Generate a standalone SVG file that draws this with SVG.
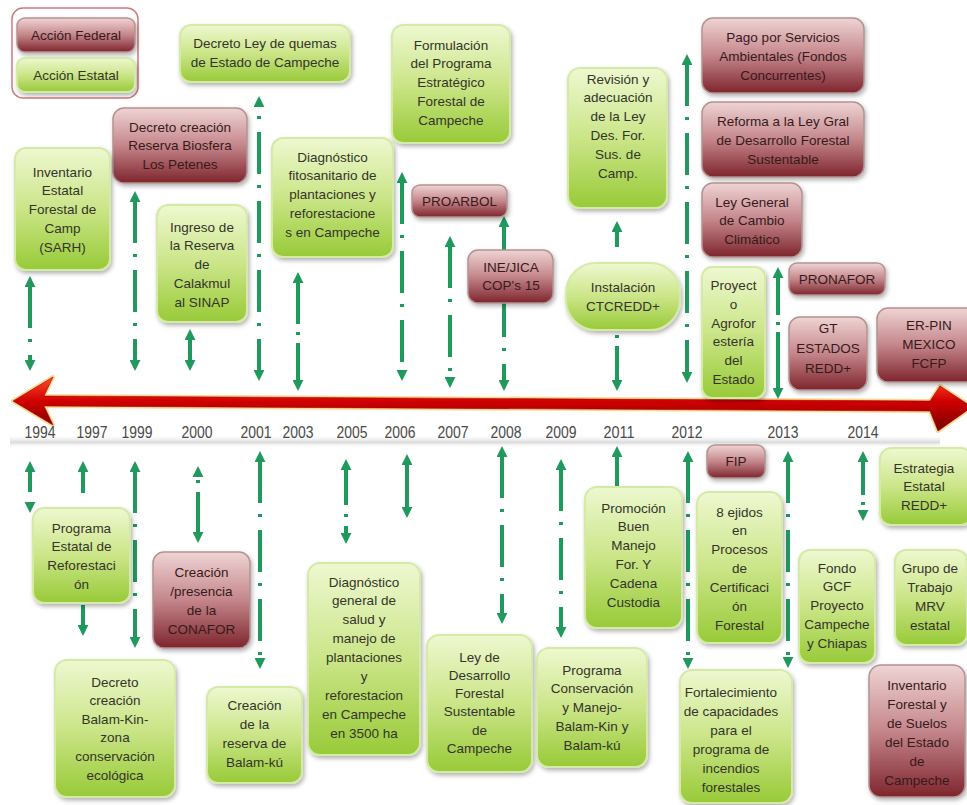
<svg xmlns="http://www.w3.org/2000/svg" width="967" height="805" viewBox="0 0 967 805">
<defs>
<linearGradient id="gg" x1="0" y1="0" x2="0" y2="1">
<stop offset="0" stop-color="#eef8d0"/><stop offset="0.5" stop-color="#cbe588"/><stop offset="1" stop-color="#98ca38"/>
</linearGradient>
<linearGradient id="mg" x1="0" y1="0" x2="0" y2="1">
<stop offset="0" stop-color="#efd4d4"/><stop offset="0.5" stop-color="#c4868b"/><stop offset="1" stop-color="#7e252d"/>
</linearGradient>
<linearGradient id="ax" x1="0" y1="0" x2="0" y2="1">
<stop offset="0" stop-color="#ff4a2a"/><stop offset="0.45" stop-color="#d00000"/><stop offset="1" stop-color="#760000"/>
</linearGradient>
<linearGradient id="band" x1="0" y1="0" x2="0" y2="1">
<stop offset="0" stop-color="#ffffff" stop-opacity="0"/><stop offset="0.6" stop-color="#dadada"/><stop offset="1" stop-color="#ffffff" stop-opacity="0"/>
</linearGradient>
<filter id="sh" x="-20%" y="-20%" width="140%" height="140%">
<feDropShadow dx="1.5" dy="2.5" stdDeviation="2" flood-color="#000" flood-opacity="0.3"/>
</filter>
<marker id="ah" viewBox="0 0 10 10" refX="1" refY="5" markerWidth="11" markerHeight="11" markerUnits="userSpaceOnUse" orient="auto-start-reverse">
<path d="M0,0 L10,5 L0,10 z" fill="#1f9a5c"/>
</marker>
</defs>
<style>
.g{fill:url(#gg);stroke:#d6eaa8;stroke-width:2;filter:url(#sh)}
.m{fill:url(#mg);stroke:#b49292;stroke-width:1.5;filter:url(#sh)}
.t{font-family:"Liberation Sans",Arial,sans-serif;font-size:13.5px;text-anchor:middle;fill:#34342a}
.tm{font-family:"Liberation Sans",Arial,sans-serif;font-size:13.5px;text-anchor:middle;fill:#361a1a}
.yr{font-family:"Liberation Sans",Arial,sans-serif;font-size:17px;text-anchor:middle;fill:#4a4a4a}
.c{stroke:#1f9a5c;stroke-width:4;fill:none}
.dd{stroke-dasharray:3 13 42 11;stroke-dashoffset:16}
.b{marker-start:url(#ah);marker-end:url(#ah)}
.u{marker-start:url(#ah)}
.d{marker-end:url(#ah)}
</style>
<rect width="967" height="805" fill="#ffffff"/>

<g id="axis">
<rect x="10" y="434" width="930" height="14" fill="url(#band)"/>
<path d="M13,401 L53,377 L44,396 L930,401 L940,386 L972,407 L938,431 L930,411 L44,406 L53,425 Z" fill="none" stroke="#f6cf7a" stroke-width="4" stroke-linejoin="round" opacity="0.8"/>
<path d="M13,401 L53,377 L44,396 L930,401 L940,386 L972,407 L938,431 L930,411 L44,406 L53,425 Z" fill="url(#ax)" stroke="#a00000" stroke-width="0.6"/>
</g>

<g id="years">
<text class="yr" x="40" y="438" textLength="31" lengthAdjust="spacingAndGlyphs">1994</text>
<text class="yr" x="92" y="438" textLength="31" lengthAdjust="spacingAndGlyphs">1997</text>
<text class="yr" x="137" y="438" textLength="31" lengthAdjust="spacingAndGlyphs">1999</text>
<text class="yr" x="197" y="438" textLength="31" lengthAdjust="spacingAndGlyphs">2000</text>
<text class="yr" x="256" y="438" textLength="31" lengthAdjust="spacingAndGlyphs">2001</text>
<text class="yr" x="298" y="438" textLength="31" lengthAdjust="spacingAndGlyphs">2003</text>
<text class="yr" x="352" y="438" textLength="31" lengthAdjust="spacingAndGlyphs">2005</text>
<text class="yr" x="400" y="438" textLength="31" lengthAdjust="spacingAndGlyphs">2006</text>
<text class="yr" x="453" y="438" textLength="31" lengthAdjust="spacingAndGlyphs">2007</text>
<text class="yr" x="506" y="438" textLength="31" lengthAdjust="spacingAndGlyphs">2008</text>
<text class="yr" x="561" y="438" textLength="31" lengthAdjust="spacingAndGlyphs">2009</text>
<text class="yr" x="619" y="438" textLength="31" lengthAdjust="spacingAndGlyphs">2011</text>
<text class="yr" x="687" y="438" textLength="31" lengthAdjust="spacingAndGlyphs">2012</text>
<text class="yr" x="783" y="438" textLength="31" lengthAdjust="spacingAndGlyphs">2013</text>
<text class="yr" x="863" y="438" textLength="31" lengthAdjust="spacingAndGlyphs">2014</text>
</g>

<g id="connectors">
<line class="c dd b" x1="30" y1="286" x2="30" y2="361"/>
<line class="c dd b" x1="135" y1="201" x2="135" y2="361"/>
<line class="c b" x1="190" y1="339" x2="190" y2="361"/>
<line class="c dd b" x1="259" y1="106" x2="259" y2="371" style="stroke-dashoffset:59"/>
<line class="c b" x1="298" y1="282" x2="298" y2="381" style="stroke-dasharray:42 8 3 8 100"/>
<line class="c dd b" x1="402" y1="182" x2="402" y2="371"/>
<line class="c dd b" x1="450" y1="246" x2="450" y2="378"/>
<line class="c dd b" x1="504" y1="226" x2="504" y2="381"/>
<line class="c u" x1="617" y1="231" x2="617" y2="247"/>
<line class="c d" x1="617" y1="334" x2="617" y2="381" style="stroke-dasharray:0 1 3 8 100"/>
<line class="c dd b" x1="687" y1="64" x2="687" y2="373"/>
<line class="c b" x1="778" y1="277" x2="778" y2="389" style="stroke-dasharray:38 7 3 7 100"/>
<line class="c b" x1="30" y1="471" x2="30" y2="503" style="stroke-dasharray:21 20"/>
<line class="c u" x1="83" y1="471" x2="83" y2="493"/>
<line class="c d" x1="83" y1="605" x2="83" y2="626"/>
<line class="c dd b" x1="135" y1="471" x2="135" y2="638"/>
<line class="c b" x1="198" y1="476" x2="198" y2="533" style="stroke-dasharray:0 4 3 9 100"/>
<line class="c dd b" x1="260" y1="461" x2="260" y2="659"/>
<line class="c b" x1="346" y1="469" x2="346" y2="534" style="stroke-dasharray:36 9 3 9 20"/>
<line class="c b" x1="407" y1="464" x2="407" y2="508"/>
<line class="c dd b" x1="502" y1="456" x2="502" y2="614"/>
<line class="c dd b" x1="561" y1="469" x2="561" y2="628"/>
<line class="c u" x1="617" y1="456" x2="617" y2="487"/>
<line class="c dd b" x1="688" y1="461" x2="688" y2="659"/>
<line class="c dd b" x1="788" y1="461" x2="788" y2="658"/>
<line class="c b" x1="863" y1="461" x2="863" y2="511" style="stroke-dasharray:34 7 3 7 20"/>
</g>

<g id="legend">
<rect x="12" y="8" width="126" height="90" rx="11" fill="#ffffff" stroke="#cf7b7b" stroke-width="1.5"/>
<g id="leg-federal"><rect class="m" x="17" y="18" width="118" height="34" rx="8"/><text class="tm" x="76" y="39.5">Acción Federal</text></g>
<g id="leg-estatal"><rect class="g" x="17" y="58" width="118" height="34" rx="8"/><text class="t" x="76" y="79.5">Acción Estatal</text></g>
</g>

<g id="n-quemas"><rect class="g" x="180" y="25" width="170" height="57" rx="11"/>
<text class="t" x="265" y="48"><tspan x="265">Decreto Ley de quemas</tspan><tspan x="265" dy="18.8">de Estado de Campeche</tspan></text></g>

<g id="n-petenes"><rect class="m" x="113" y="108" width="134" height="75" rx="11"/>
<text class="tm" x="180" y="131.5"><tspan x="180">Decreto creación</tspan><tspan x="180" dy="18.8">Reserva Biosfera</tspan><tspan x="180" dy="18.8">Los Petenes</tspan></text></g>

<g id="n-inventario"><rect class="g" x="15" y="148" width="95" height="122" rx="11"/>
<text class="t" x="62.5" y="176.5"><tspan x="62.5">Inventario</tspan><tspan x="62.5" dy="18.8">Estatal</tspan><tspan x="62.5" dy="18.8">Forestal de</tspan><tspan x="62.5" dy="18.8">Camp</tspan><tspan x="62.5" dy="18.8">(SARH)</tspan></text></g>

<g id="n-calakmul"><rect class="g" x="157" y="205" width="90" height="117" rx="11"/>
<text class="t" x="202" y="231.5"><tspan x="202">Ingreso de</tspan><tspan x="202" dy="18.8">la Reserva</tspan><tspan x="202" dy="18.8">de</tspan><tspan x="202" dy="18.8">Calakmul</tspan><tspan x="202" dy="18.8">al SINAP</tspan></text></g>

<g id="n-fitosanitario"><rect class="g" x="272" y="138" width="121" height="119" rx="11"/>
<text class="t" x="332.5" y="161.5"><tspan x="332.5">Diagnóstico</tspan><tspan x="332.5" dy="18.8">fitosanitario de</tspan><tspan x="332.5" dy="18.8">plantaciones y</tspan><tspan x="332.5" dy="18.8">reforestacione</tspan><tspan x="332.5" dy="18.8">s en Campeche</tspan></text></g>

<g id="n-formulacion"><rect class="g" x="392" y="25" width="118" height="118" rx="11"/>
<text class="t" x="451" y="49.5"><tspan x="451">Formulación</tspan><tspan x="451" dy="18.8">del Programa</tspan><tspan x="451" dy="18.8">Estratégico</tspan><tspan x="451" dy="18.8">Forestal de</tspan><tspan x="451" dy="18.8">Campeche</tspan></text></g>

<g id="n-proarbol"><rect class="m" x="412" y="185" width="95" height="32" rx="8"/>
<text class="tm" x="459.5" y="205.5">PROARBOL</text></g>

<g id="n-inejica"><rect class="m" x="468" y="250" width="85" height="53" rx="10"/>
<text class="tm" x="511" y="271.5"><tspan x="511">INE/JICA</tspan><tspan x="511" dy="18.8">COP's 15</tspan></text></g>

<g id="n-revision"><rect class="g" x="568" y="68" width="99" height="140" rx="12"/>
<text class="t" x="618" y="83.5"><tspan x="618">Revisión y</tspan><tspan x="618" dy="18.8">adecuación</tspan><tspan x="618" dy="18.8">de la Ley</tspan><tspan x="618" dy="18.8">Des. For.</tspan><tspan x="618" dy="18.8">Sus. de</tspan><tspan x="618" dy="18.8">Camp.</tspan></text></g>

<g id="n-instalacion"><rect class="g" x="566" y="263" width="114" height="67" rx="30"/>
<text class="t" x="623" y="292"><tspan x="623">Instalación</tspan><tspan x="623" dy="18.8">CTCREDD+</tspan></text></g>

<g id="n-pago"><rect class="m" x="702" y="18" width="162" height="75" rx="11"/>
<text class="tm" x="783" y="42"><tspan x="783">Pago por Servicios</tspan><tspan x="783" dy="18.8">Ambientales (Fondos</tspan><tspan x="783" dy="18.8">Concurrentes)</tspan></text></g>

<g id="n-reforma"><rect class="m" x="702" y="102" width="162" height="75" rx="11"/>
<text class="tm" x="783" y="126"><tspan x="783">Reforma a la Ley Gral</tspan><tspan x="783" dy="18.8">de Desarrollo Forestal</tspan><tspan x="783" dy="18.8">Sustentable</tspan></text></g>

<g id="n-cambio"><rect class="m" x="702" y="183" width="100" height="74" rx="11"/>
<text class="tm" x="752" y="206.5"><tspan x="752">Ley General</tspan><tspan x="752" dy="18.8">de Cambio</tspan><tspan x="752" dy="18.8">Climático</tspan></text></g>

<g id="n-agroforesteria"><rect class="g" x="702" y="267" width="63" height="131" rx="10"/>
<text class="t" x="733.5" y="290"><tspan x="733.5">Proyect</tspan><tspan x="733.5" dy="18.8">o</tspan><tspan x="733.5" dy="18.8">Agrofor</tspan><tspan x="733.5" dy="18.8">estería</tspan><tspan x="733.5" dy="18.8">del</tspan><tspan x="733.5" dy="18.8">Estado</tspan></text></g>

<g id="n-pronafor"><rect class="m" x="789" y="263" width="96" height="32" rx="8"/>
<text class="tm" x="837" y="283.5">PRONAFOR</text></g>

<g id="n-gt"><rect class="m" x="789" y="317" width="78" height="73" rx="11"/>
<text class="tm" x="828" y="333"><tspan x="828">GT</tspan><tspan x="828" dy="20">ESTADOS</tspan><tspan x="828" dy="20">REDD+</tspan></text></g>

<g id="n-erpin"><rect class="m" x="877" y="308" width="104" height="74" rx="11"/>
<text class="tm" x="929" y="329.5"><tspan x="929">ER-PIN</tspan><tspan x="929" dy="19">MEXICO</tspan><tspan x="929" dy="19">FCFP</tspan></text></g>

<g id="n-reforestacion"><rect class="g" x="33" y="508" width="97" height="95" rx="11"/>
<text class="t" x="81.5" y="532.5"><tspan x="81.5">Programa</tspan><tspan x="81.5" dy="18.8">Estatal de</tspan><tspan x="81.5" dy="18.8">Reforestaci</tspan><tspan x="81.5" dy="18.8">ón</tspan></text></g>

<g id="n-conafor"><rect class="m" x="153" y="552" width="97" height="96" rx="11"/>
<text class="tm" x="201.5" y="576.5"><tspan x="201.5">Creación</tspan><tspan x="201.5" dy="19.2">/presencia</tspan><tspan x="201.5" dy="19.2">de la</tspan><tspan x="201.5" dy="19.2">CONAFOR</tspan></text></g>

<g id="n-balamkin"><rect class="g" x="55" y="660" width="120" height="137" rx="12"/>
<text class="t" x="115" y="686.5"><tspan x="115">Decreto</tspan><tspan x="115" dy="18.6">creación</tspan><tspan x="115" dy="18.6">Balam-Kin-</tspan><tspan x="115" dy="18.6">zona</tspan><tspan x="115" dy="18.6">conservación</tspan><tspan x="115" dy="18.6">ecológica</tspan></text></g>

<g id="n-balamku"><rect class="g" x="207" y="687" width="95" height="96" rx="11"/>
<text class="t" x="254.5" y="709.5"><tspan x="254.5">Creación</tspan><tspan x="254.5" dy="19">de la</tspan><tspan x="254.5" dy="19">reserva de</tspan><tspan x="254.5" dy="19">Balam-kú</tspan></text></g>

<g id="n-diagnostico"><rect class="g" x="308" y="563" width="112" height="192" rx="12"/>
<text class="t" x="364" y="586.5"><tspan x="364">Diagnóstico</tspan><tspan x="364" dy="18.9">general de</tspan><tspan x="364" dy="18.9">salud y</tspan><tspan x="364" dy="18.9">manejo de</tspan><tspan x="364" dy="18.9">plantaciones</tspan><tspan x="364" dy="18.9">y</tspan><tspan x="364" dy="18.9">reforestacion</tspan><tspan x="364" dy="18.9">en Campeche</tspan><tspan x="364" dy="18.9">en 3500 ha</tspan></text></g>

<g id="n-leydesarrollo"><rect class="g" x="427" y="635" width="105" height="137" rx="12"/>
<text class="t" x="479.5" y="661.5"><tspan x="479.5">Ley de</tspan><tspan x="479.5" dy="18.3">Desarrollo</tspan><tspan x="479.5" dy="18.3">Forestal</tspan><tspan x="479.5" dy="18.3">Sustentable</tspan><tspan x="479.5" dy="18.3">de</tspan><tspan x="479.5" dy="18.3">Campeche</tspan></text></g>

<g id="n-conservacion"><rect class="g" x="537" y="648" width="110" height="119" rx="12"/>
<text class="t" x="592" y="674.5"><tspan x="592">Programa</tspan><tspan x="592" dy="18.8">Conservación</tspan><tspan x="592" dy="18.8">y Manejo-</tspan><tspan x="592" dy="18.8">Balam-Kin y</tspan><tspan x="592" dy="18.8">Balam-kú</tspan></text></g>

<g id="n-promocion"><rect class="g" x="585" y="487" width="97" height="141" rx="12"/>
<text class="t" x="633.5" y="512.5"><tspan x="633.5">Promoción</tspan><tspan x="633.5" dy="18.8">Buen</tspan><tspan x="633.5" dy="18.8">Manejo</tspan><tspan x="633.5" dy="18.8">For. Y</tspan><tspan x="633.5" dy="18.8">Cadena</tspan><tspan x="633.5" dy="18.8">Custodia</tspan></text></g>

<g id="n-fip"><rect class="m" x="707" y="445" width="58" height="33" rx="8"/>
<text class="tm" x="736" y="466">FIP</text></g>

<g id="n-ejidos"><rect class="g" x="697" y="492" width="85" height="151" rx="12"/>
<text class="t" x="739.5" y="516.5"><tspan x="739.5">8 ejidos</tspan><tspan x="739.5" dy="18.9">en</tspan><tspan x="739.5" dy="18.9">Procesos</tspan><tspan x="739.5" dy="18.9">de</tspan><tspan x="739.5" dy="18.9">Certificaci</tspan><tspan x="739.5" dy="18.9">ón</tspan><tspan x="739.5" dy="18.9">Forestal</tspan></text></g>

<g id="n-fortalecimiento"><rect class="g" x="680" y="670" width="112" height="133" rx="12"/>
<text class="t" x="731" y="696.5"><tspan x="731">Fortalecimiento</tspan><tspan x="731" dy="19">de capacidades</tspan><tspan x="731" dy="19">para el</tspan><tspan x="731" dy="19">programa de</tspan><tspan x="731" dy="19">incendios</tspan><tspan x="731" dy="19">forestales</tspan></text></g>

<g id="n-fondogcf"><rect class="g" x="799" y="550" width="76" height="113" rx="11"/>
<text class="t" x="837" y="572.5"><tspan x="837">Fondo</tspan><tspan x="837" dy="18.8">GCF</tspan><tspan x="837" dy="18.8">Proyecto</tspan><tspan x="837" dy="18.8">Campeche</tspan><tspan x="837" dy="18.8">y Chiapas</tspan></text></g>

<g id="n-estrategia"><rect class="g" x="880" y="448" width="92" height="77" rx="11"/>
<text class="t" x="924" y="472.5"><tspan x="924">Estrategia</tspan><tspan x="924" dy="18.8">Estatal</tspan><tspan x="924" dy="18.8">REDD+</tspan></text></g>

<g id="n-mrv"><rect class="g" x="895" y="550" width="72" height="95" rx="11"/>
<text class="t" x="930" y="572.5"><tspan x="930">Grupo de</tspan><tspan x="930" dy="19.2">Trabajo</tspan><tspan x="930" dy="19.2">MRV</tspan><tspan x="930" dy="19.2">estatal</tspan></text></g>

<g id="n-inventariosuelos"><rect class="m" x="869" y="665" width="96" height="132" rx="12"/>
<text class="tm" x="917" y="689.5"><tspan x="917">Inventario</tspan><tspan x="917" dy="19">Forestal y</tspan><tspan x="917" dy="19">de Suelos</tspan><tspan x="917" dy="19">del Estado</tspan><tspan x="917" dy="19">de</tspan><tspan x="917" dy="19">Campeche</tspan></text></g>
</svg>
